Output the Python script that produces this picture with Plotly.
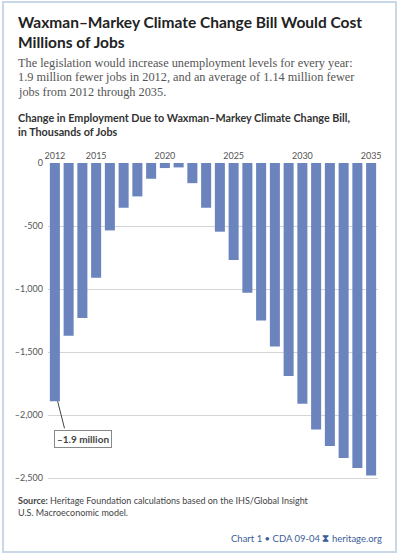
import plotly.graph_objects as go

# data (thousands of jobs)
years = list(range(2012, 2036))
job_change = [-1890, -1370, -1230, -910, -535, -355, -265, -125, -40, -35, -160,
              -355, -545, -770, -1030, -1250, -1455, -1690, -1910, -2115, -2245,
              -2340, -2420, -2480]
year_ticks = [2012, 2015, 2020, 2025, 2030, 2035]
y_ticks = [0, -500, -1000, -1500, -2000, -2500]
y_tick_labels = ["0", "-500", "–1,000", "–1,500", "–2,000", "–2,500"]

subtitle_lines = [
    "The legislation would increase unemployment levels for every year:",
    "1.9 million fewer jobs in 2012, and an average of 1.14 million fewer",
    "jobs from 2012 through 2035.",
]

W, H = 400, 560
L, R, T, B = 48, 22, 163, 80


# pixel -> paper helpers
def px(x):
    return (x - L) / (W - L - R)


def py(y):
    return (H - B - y) / (H - T - B)


fig = go.Figure()
fig.add_trace(go.Bar(x=years, y=job_change, marker=dict(color="#6b84be", line=dict(width=0)),
                     hoverinfo="x+y"))

fig.update_layout(
    width=W, height=H,
    margin=dict(l=L, r=R, t=T, b=B),
    paper_bgcolor="white", plot_bgcolor="white",
    showlegend=False, bargap=0.27,
    font=dict(family="Lato, sans-serif", color="#333"),
)
fig.update_xaxes(side="top", range=[2011.5, 2035.5], tickvals=year_ticks,
                 tickfont=dict(size=9, color="#555", family="Lato"),
                 showgrid=False, zeroline=False, showline=False, ticks="", ticklabelstandoff=1)
fig.update_yaxes(range=[-2515, 0], tickvals=y_ticks, ticktext=y_tick_labels,
                 tickfont=dict(size=9, color="#555", family="Lato"),
                 showgrid=True, gridcolor="#d4d4d4", gridwidth=1, zeroline=False,
                 showline=False, ticks="", ticklabelstandoff=4)

# outer frame
fig.add_shape(type="rect", xref="paper", yref="paper", x0=px(3), x1=px(396), y0=py(2), y1=py(552),
              line=dict(color="#c9d8e8", width=2), layer="below")

# callout leader line
fig.add_shape(type="line", xref="x", yref="y", x0=2012.2, y0=-1890, x1=2012.7, y1=-2105,
              line=dict(color="#444", width=1))

anns = [
    dict(text="<b>Waxman–Markey Climate Change Bill Would Cost<br>Millions of Jobs</b>",
         x=px(16), y=py(11), font=dict(size=15.5, color="#222", family="Lato")),
    dict(text="<b>Change in Employment Due to Waxman–Markey Climate Change Bill,<br>"
              "in Thousands of Jobs</b>",
         x=px(16), y=py(109), font=dict(size=10.8, color="#333", family="Lato")),
    dict(text="<b>Source:</b> Heritage Foundation calculations based on the IHS/Global Insight<br>"
              "U.S. Macroeconomic model.",
         x=px(16), y=py(493), font=dict(size=9, color="#444", family="Lato")),
]
for a in anns:
    fig.add_annotation(xref="paper", yref="paper", xanchor="left", yanchor="top",
                       align="left", showarrow=False, **a)

for i, line in enumerate(subtitle_lines):
    fig.add_annotation(text=line, xref="paper", yref="paper", x=px(16), y=py(63 + 14.5 * i),
                       xanchor="left", yanchor="middle", showarrow=False,
                       font=dict(size=12.3, color="#555", family="Liberation Serif"))

fig.add_annotation(text="Chart 1 • CDA 09-04 <b>⧗</b> heritage.org", xref="paper", yref="paper",
                   x=px(384), y=py(538), xanchor="right", yanchor="middle", showarrow=False,
                   font=dict(size=9.5, color="#3d5d99", family="Lato"))

fig.add_annotation(text="<b>–1.9 million</b>", xref="paper", yref="paper",
                   x=px(83), y=py(439), xanchor="center", yanchor="middle", showarrow=False,
                   font=dict(size=10, color="#444", family="Lato"),
                   bgcolor="white", bordercolor="#888", borderwidth=1, borderpad=2)

# page body has an 8px default margin; drop it so the figure sits at 0,0
fig.write_html("out.html", config={"displayModeBar": False},
               post_script="document.body.style.margin='0';")
